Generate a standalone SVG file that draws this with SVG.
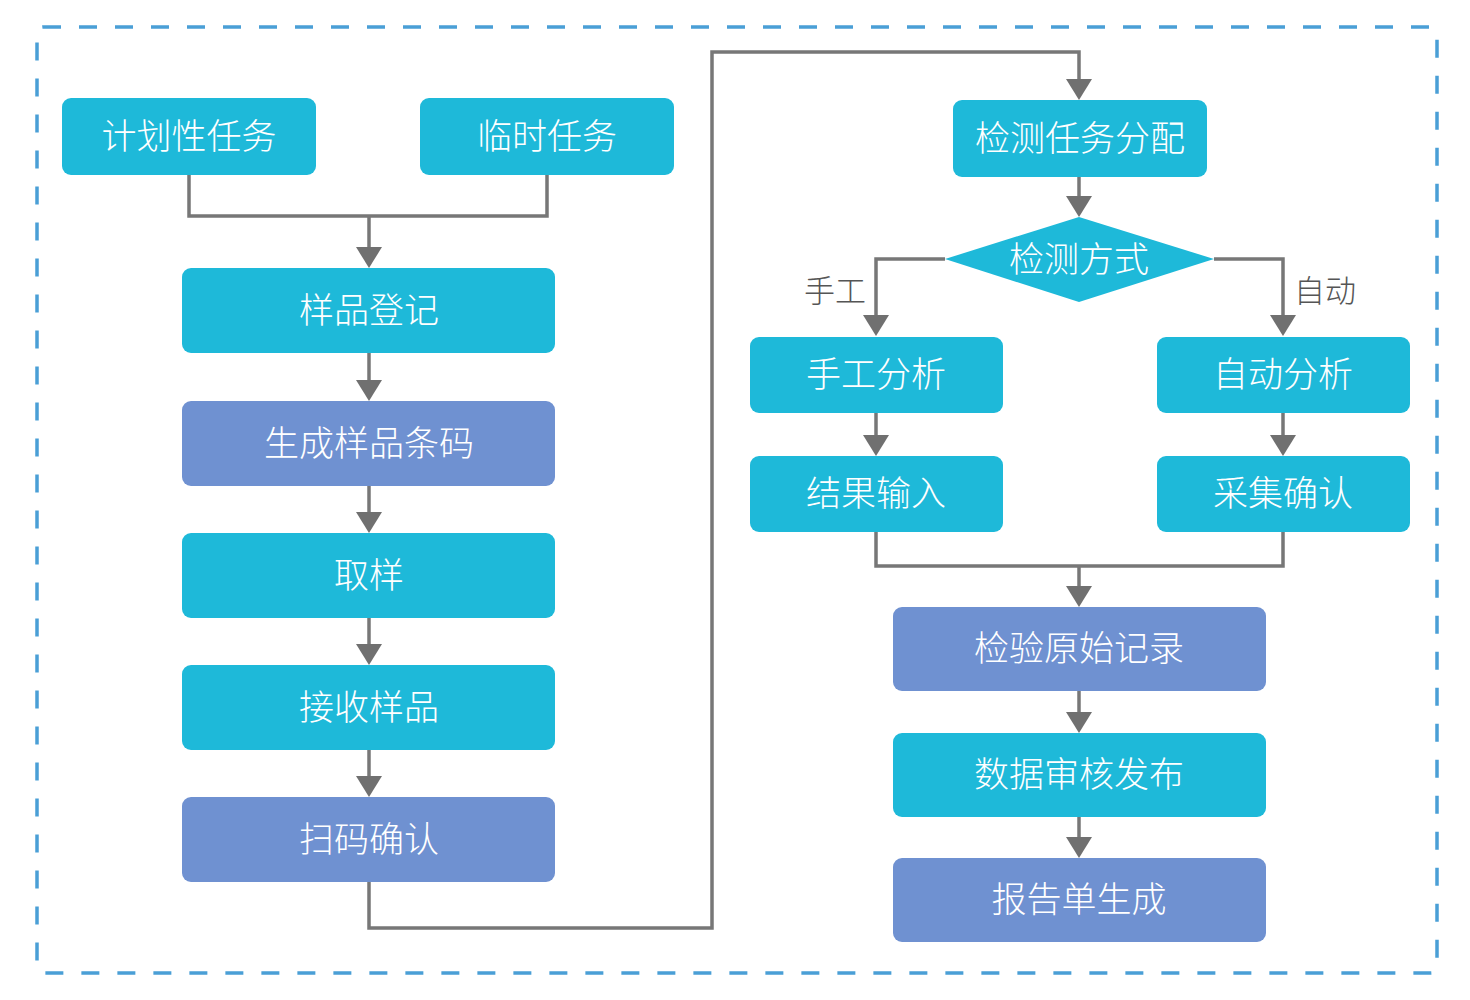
<svg xmlns="http://www.w3.org/2000/svg" width="1470" height="1000" viewBox="0 0 1470 1000">
<style>
.c{fill:#1eb9d9}
.p{fill:#6f91d1}
.t{font-family:"Noto Sans CJK SC","Noto Sans",sans-serif;font-size:35px;font-weight:300;fill:#ffffff;text-anchor:middle;dominant-baseline:central}
.l{font-family:"Noto Sans CJK SC","Noto Sans",sans-serif;font-size:31px;font-weight:300;fill:#555555;text-anchor:middle;dominant-baseline:central}
.e{fill:none;stroke:#777777;stroke-width:3.5}
.h{fill:#707070}
</style>
<rect x="0" y="0" width="1470" height="1000" fill="#ffffff"/>
<rect id="border" x="37" y="27" width="1400" height="946" rx="6" fill="none" stroke="#4a9fd6" stroke-width="3.5" stroke-dasharray="18 18"/>
<g id="connectors">
<path class="e" d="M189,175 V216 H547 V175"/>
<path class="e" d="M369,216 V248"/>
<path class="h" d="M356,247 H382 L369,268 Z"/>
<path class="e" d="M369,353 V381"/>
<path class="h" d="M356,380 H382 L369,401 Z"/>
<path class="e" d="M369,486 V513"/>
<path class="h" d="M356,512 H382 L369,533 Z"/>
<path class="e" d="M369,618 V645"/>
<path class="h" d="M356,644 H382 L369,665 Z"/>
<path class="e" d="M369,750 V777"/>
<path class="h" d="M356,776 H382 L369,797 Z"/>
<path class="e" d="M369,882 V928 H712 V52 H1079 V80"/>
<path class="h" d="M1066,79 H1092 L1079,100 Z"/>
<path class="e" d="M1079,177 V197"/>
<path class="h" d="M1066,196 H1092 L1079,217 Z"/>
<path class="e" d="M945,259 H876 V316"/>
<path class="h" d="M863,315 H889 L876,336 Z"/>
<path class="e" d="M1214,259 H1283 V316"/>
<path class="h" d="M1270,315 H1296 L1283,336 Z"/>
<path class="e" d="M876,413 V436"/>
<path class="h" d="M863,435 H889 L876,456 Z"/>
<path class="e" d="M1283,413 V436"/>
<path class="h" d="M1270,435 H1296 L1283,456 Z"/>
<path class="e" d="M876,532 V566 H1283 V532"/>
<path class="e" d="M1079,566 V587"/>
<path class="h" d="M1066,586 H1092 L1079,607 Z"/>
<path class="e" d="M1079,691 V713"/>
<path class="h" d="M1066,712 H1092 L1079,733 Z"/>
<path class="e" d="M1079,817 V838"/>
<path class="h" d="M1066,837 H1092 L1079,858 Z"/>
<text class="l" x="835" y="288">手工</text>
<text class="l" x="1325" y="288">自动</text>
</g>
<g id="n1"><rect class="c" x="62" y="98" width="254" height="77" rx="9"/><text class="t" x="189" y="133">计划性任务</text></g>
<g id="n2"><rect class="c" x="420" y="98" width="254" height="77" rx="9"/><text class="t" x="547" y="133">临时任务</text></g>
<g id="n3"><rect class="c" x="182" y="268" width="373" height="85" rx="9"/><text class="t" x="369" y="307">样品登记</text></g>
<g id="n4"><rect class="p" x="182" y="401" width="373" height="85" rx="9"/><text class="t" x="369" y="440">生成样品条码</text></g>
<g id="n5"><rect class="c" x="182" y="533" width="373" height="85" rx="9"/><text class="t" x="369" y="572">取样</text></g>
<g id="n6"><rect class="c" x="182" y="665" width="373" height="85" rx="9"/><text class="t" x="369" y="704">接收样品</text></g>
<g id="n7"><rect class="p" x="182" y="797" width="373" height="85" rx="9"/><text class="t" x="369" y="836">扫码确认</text></g>
<g id="n8"><rect class="c" x="953" y="100" width="254" height="77" rx="9"/><text class="t" x="1080" y="135">检测任务分配</text></g>
<g id="n9"><path class="c" d="M1079,217 L1214,259 L1079,302 L945,259 Z"/><text class="t" x="1079" y="256">检测方式</text></g>
<g id="n10"><rect class="c" x="750" y="337" width="253" height="76" rx="9"/><text class="t" x="876" y="371">手工分析</text></g>
<g id="n11"><rect class="c" x="1157" y="337" width="253" height="76" rx="9"/><text class="t" x="1283" y="371">自动分析</text></g>
<g id="n12"><rect class="c" x="750" y="456" width="253" height="76" rx="9"/><text class="t" x="876" y="490">结果输入</text></g>
<g id="n13"><rect class="c" x="1157" y="456" width="253" height="76" rx="9"/><text class="t" x="1283" y="490">采集确认</text></g>
<g id="n14"><rect class="p" x="893" y="607" width="373" height="84" rx="9"/><text class="t" x="1079" y="645">检验原始记录</text></g>
<g id="n15"><rect class="c" x="893" y="733" width="373" height="84" rx="9"/><text class="t" x="1079" y="771">数据审核发布</text></g>
<g id="n16"><rect class="p" x="893" y="858" width="373" height="84" rx="9"/><text class="t" x="1079" y="896">报告单生成</text></g>
</svg>
